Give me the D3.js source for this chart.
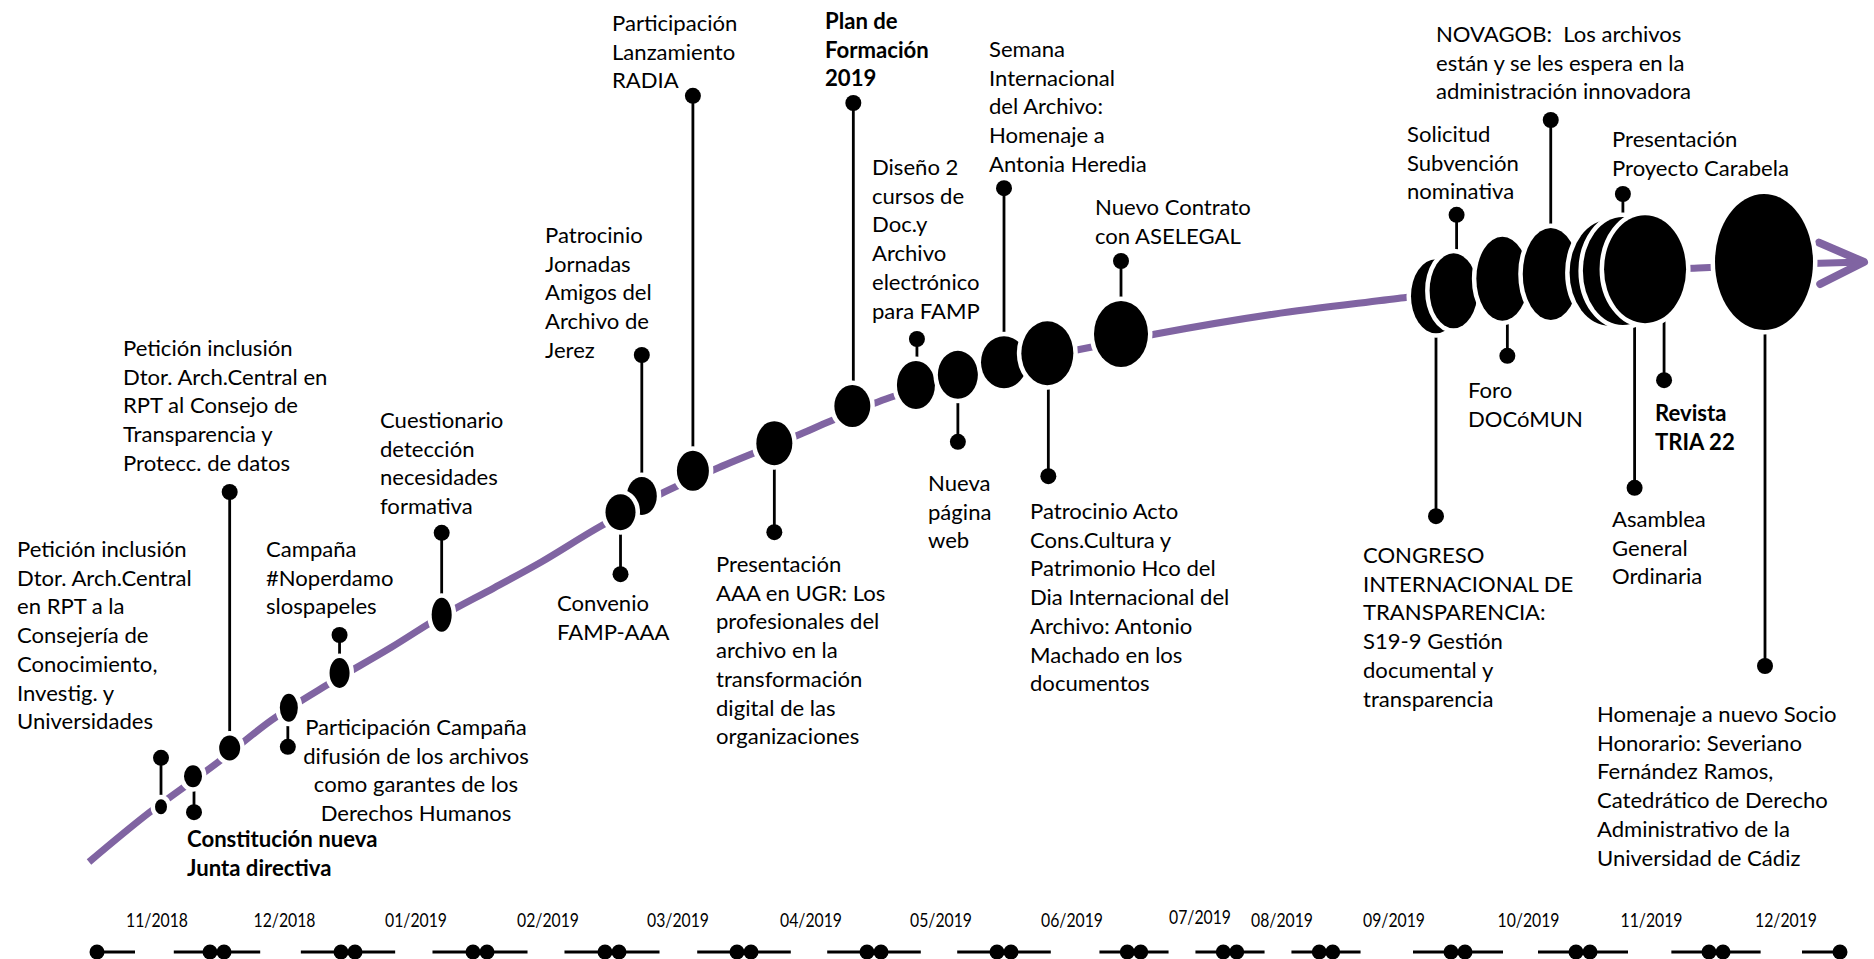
<!DOCTYPE html>
<html><head><meta charset="utf-8">
<script src="https://cdn.jsdelivr.net/npm/d3@7"></script>
<style>
html,body{margin:0;padding:0;background:#fff;overflow:hidden}
svg{display:block}
</style></head><body>
<svg id="chart" width="1874" height="959"></svg>
<script>
// ================= DATA =================
const monthLabels = ["11/2018","12/2018","01/2019","02/2019","03/2019","04/2019","05/2019",
  "06/2019","07/2019","08/2019","09/2019","10/2019","11/2019","12/2019"];
const monthStarts = ["2018-11-01","2018-12-01","2019-01-01","2019-02-01","2019-03-01","2019-04-01",
  "2019-05-01","2019-06-01","2019-07-01","2019-08-01","2019-09-01","2019-10-01","2019-11-01",
  "2019-12-01","2020-01-01"];

const eventLines = [
 ["Petición inclusión","Dtor. Arch.Central","en RPT a la","Consejería de","Conocimiento,","Investig. y","Universidades"],
 ["Constitución nueva","Junta directiva"],
 ["Petición inclusión","Dtor. Arch.Central en","RPT al Consejo de","Transparencia y","Protecc. de datos"],
 ["Participación Campaña","difusión de los archivos","como garantes de los","Derechos Humanos"],
 ["Campaña","#Noperdamo","slospapeles"],
 ["Cuestionario","detección","necesidades","formativa"],
 ["Patrocinio","Jornadas","Amigos del","Archivo de","Jerez"],
 ["Convenio","FAMP-AAA"],
 ["Participación","Lanzamiento","RADIA"],
 ["Presentación","AAA en UGR: Los","profesionales del","archivo en la","transformación","digital de las","organizaciones"],
 ["Plan de","Formación","2019"],
 ["Diseño 2","cursos de","Doc.y","Archivo","electrónico","para FAMP"],
 ["Nueva","página","web"],
 ["Semana","Internacional","del Archivo:","Homenaje a","Antonia Heredia"],
 ["Patrocinio Acto","Cons.Cultura y","Patrimonio Hco del","Dia Internacional del","Archivo: Antonio","Machado en los","documentos"],
 ["Nuevo Contrato","con ASELEGAL"],
 ["CONGRESO","INTERNACIONAL DE","TRANSPARENCIA:","S19-9 Gestión","documental y","transparencia"],
 ["Solicitud","Subvención","nominativa"],
 ["Foro","DOCóMUN"],
 ["NOVAGOB:  Los archivos","están y se les espera en la","administración innovadora"],
 ["Asamblea","General","Ordinaria"],
 ["Presentación","Proyecto Carabela"],
 ["Revista","TRIA 22"],
 ["Homenaje a nuevo Socio","Honorario: Severiano","Fernández Ramos,","Catedrático de Derecho","Administrativo de la","Universidad de Cádiz"]
];
const eventDates = ["2018-11-17","2018-11-25","2018-12-04","2018-12-18","2018-12-30","2019-01-23",
  "2019-03-08","2019-03-03","2019-03-20","2019-04-08","2019-04-26","2019-05-11","2019-05-21",
  "2019-06-01","2019-06-11","2019-06-28","2019-09-26","2019-09-30","2019-10-12","2019-10-24",
  "2019-11-07","2019-11-10","2019-11-15","2019-12-13"];
const eventLevels = [9.2,14.3,19,25.7,31.5,41.2,61,58.3,65.2,69.8,76,79.5,81.2,83.3,84.8,88,
  94.3,95.2,97.2,98,98.2,98.5,98.8,100];
const eventBold = [false,true,false,false,false,false,false,false,false,false,true,false,false,
  false,false,false,false,false,false,false,false,false,true,false];

const trendDates = ["2018-10-30","2018-11-14","2018-12-01","2018-12-14","2018-12-27","2019-01-11",
  "2019-01-23","2019-02-04","2019-02-14","2019-02-26","2019-03-12","2019-03-26","2019-04-13",
  "2019-04-21","2019-05-04","2019-05-17","2019-05-31","2019-06-12","2019-06-21","2019-07-08",
  "2019-08-15","2019-09-18","2019-09-30","2019-10-12","2019-10-24","2019-11-15","2019-11-27",
  "2019-12-13","2019-12-27","2020-01-07"];
const trendLevels = [0,8.2,16.5,23.7,29.5,35.7,41,45.7,50,55.7,61.2,65.7,71,73.5,77.2,80,82.7,
  84.5,85.8,88,91.3,94,95.2,96.7,97.5,98.7,99,99.5,99.8,100];

// ================= LAYOUT =================
const W = 1874, H = 959;
const monthStartX = [97,217,348,480,612,744,874,1004,1134,1230,1326,1458,1583,1716,1840];
const monthLabelShift = [0,2,2,2,0,2,2,3,18,4,2,8,2,8];
const levelPixels = [862, 262];
const ellipseRadii = [[6,7.5],[9,11],[10.5,12.5],[9,14],[10,15],[10,17],[15,19],[15,18],[16,20],
  [18,22],[18,21],[19,24],[20,24],[23,26],[26,32],[27,33],[25,37],[24,37.5],[26,42],[28,46],
  [40,53],[40,54],[41,54],[49,68]];
const stemLength = [-49,36,-256,39,-38,-82,-141,62,-375,89,-303,-46,67,-174,123,-73,220,-76,77,
  -154,215,-77,111,404];
const stemShift = [0,1,0,-1,0,0,0,0,0,0,1,1,0,0,1,0,0,3,5,0,25,0,19,1];
const labelAnchor = [[17,557,"start"],[187,847,"start"],[123,356,"start"],[416,735,"middle"],
  [266,557,"start"],[380,428,"start"],[545,243,"start"],[557,611,"start"],[612,31,"start"],
  [716,572,"start"],[825,29,"start"],[872,175,"start"],[928,491,"start"],[989,57,"start"],
  [1030,519,"start"],[1095,215,"start"],[1363,563,"start"],[1407,142,"start"],[1468,398,"start"],
  [1436,42,"start"],[1612,527,"start"],[1612,147,"start"],[1655,421,"start"],[1597,722,"start"]];
const lineStep = 28.7;
const purple = "#8064A2";
const FONT = "Lato, 'Open Sans', sans-serif";

// ================= SCALES =================
const parse = d3.utcParse("%Y-%m-%d");
const x = d3.scaleUtc().domain(monthStarts.map(parse)).range(monthStartX);
const y = d3.scaleLinear().domain([0,100]).range(levelPixels);

const svg = d3.select("#chart").attr("viewBox",[0,0,W,H]);

function fitSize(weight, samples, target){
  const t = svg.append("text").attr("font-family",FONT).attr("font-weight",weight).attr("font-size",100);
  let tot = 0;
  samples.forEach(s => { t.text(s); tot += t.node().getComputedTextLength(); });
  t.remove();
  return 100*target/tot;
}
const fsReg = fitSize(400, ["Dtor. Arch.Central en","Petición inclusión","Antonia Heredia","Conocimiento,","Amigos del","Internacional"], 905);
const fsBold = fitSize(700, ["Constitución nueva","Junta directiva"], 335);

// ================= TREND CURVE =================
const trend = trendDates.map((d,i)=>({date:parse(d), level:trendLevels[i]}));
const line = d3.line().x(d=>x(d.date)).y(d=>y(d.level)).curve(d3.curveCatmullRom.alpha(0.5));
svg.append("path").datum(trend).attr("d",line)
  .attr("fill","none").attr("stroke",purple).attr("stroke-width",7).attr("stroke-linecap","butt");

// arrow head
const pEnd = trend[trend.length-1], pPrev = trend[trend.length-3];
const tipX = x(pEnd.date), tipY = y(pEnd.level);
const ang = Math.atan2(tipY - y(pPrev.level), tipX - x(pPrev.date));
const armLen = 49, spread = 25*Math.PI/180;
const arm = a => [tipX - armLen*Math.cos(ang - a), tipY - armLen*Math.sin(ang - a)];
const a1 = arm(spread), a2 = arm(-spread);
svg.append("path").attr("d",`M${a1[0]},${a1[1]}L${tipX},${tipY}L${a2[0]},${a2[1]}`)
  .attr("fill","none").attr("stroke",purple).attr("stroke-width",8)
  .attr("stroke-linecap","round").attr("stroke-linejoin","round");

// ================= EVENTS =================
const events = eventLines.map((lines,i)=>({
  lines, date:parse(eventDates[i]), level:eventLevels[i], bold:eventBold[i],
  rx:ellipseRadii[i][0], ry:ellipseRadii[i][1], stem:stemLength[i], sdx:stemShift[i],
  lab:labelAnchor[i]
}));

const gStem = svg.append("g");
events.forEach(e=>{
  const cx = x(e.date)+e.sdx, cy = y(e.level);
  gStem.append("line").attr("x1",cx).attr("x2",cx).attr("y1",cy).attr("y2",cy+e.stem)
    .attr("stroke","#000").attr("stroke-width",2.8);
  gStem.append("circle").attr("cx",cx).attr("cy",cy+e.stem).attr("r",8).attr("fill","#000");
});

svg.append("g").selectAll("ellipse").data(events).join("ellipse")
  .attr("cx",d=>x(d.date)).attr("cy",d=>y(d.level))
  .attr("rx",d=>d.rx).attr("ry",d=>d.ry)
  .attr("fill","#000").attr("stroke","#fff").attr("stroke-width",9)
  .style("paint-order","stroke");

const gLab = svg.append("g").attr("font-family",FONT).attr("fill","#000");
events.forEach(e=>{
  const t = gLab.append("text").attr("x",e.lab[0]).attr("y",e.lab[1])
    .attr("text-anchor",e.lab[2])
    .attr("font-size", e.bold ? fsBold : fsReg)
    .attr("font-weight", e.bold ? 700 : 400)
    .style("white-space","pre");
  e.lines.forEach((l,k)=>{
    t.append("tspan").attr("x",e.lab[0]).attr("y",e.lab[1]+k*lineStep).text(l);
  });
});

// ================= BOTTOM TIME AXIS =================
const gAxis = svg.append("g");
const axisY = 952;
const bx = monthStarts.map(d=>x(parse(d)));
bx.forEach((px,i)=>{
  const left = i>0 ? bx[i]-bx[i-1] : null;
  const right = i<bx.length-1 ? bx[i+1]-bx[i] : null;
  if(i===0){
    gAxis.append("line").attr("x1",px).attr("x2",px+38).attr("y1",axisY).attr("y2",axisY)
      .attr("stroke","#000").attr("stroke-width",3);
    gAxis.append("circle").attr("cx",px).attr("cy",axisY).attr("r",7.5).attr("fill","#000");
  } else if(i===bx.length-1){
    gAxis.append("line").attr("x1",px-38).attr("x2",px).attr("y1",axisY).attr("y2",axisY)
      .attr("stroke","#000").attr("stroke-width",3);
    gAxis.append("circle").attr("cx",px).attr("cy",axisY).attr("r",7.5).attr("fill","#000");
  } else {
    const h = 0.36*Math.min(left,right);
    const dd = Math.min(7, 0.07*Math.min(left,right));
    gAxis.append("line").attr("x1",px-h).attr("x2",px+h).attr("y1",axisY).attr("y2",axisY)
      .attr("stroke","#000").attr("stroke-width",3);
    gAxis.append("circle").attr("cx",px-dd).attr("cy",axisY).attr("r",7.5).attr("fill","#000");
    gAxis.append("circle").attr("cx",px+dd).attr("cy",axisY).attr("r",7.5).attr("fill","#000");
  }
});
gAxis.selectAll("text.m").data(monthLabels).join("text").attr("class","m")
  .attr("x",(d,i)=>(bx[i]+bx[i+1])/2 + monthLabelShift[i])
  .attr("y",(d,i)=> i===8 ? 924 : 927)
  .attr("text-anchor","middle").attr("font-family",FONT).attr("font-size",18.5)
  .attr("textLength",62).attr("lengthAdjust","spacingAndGlyphs")
  .attr("fill","#000").text(d=>d);
</script>
</body></html>
